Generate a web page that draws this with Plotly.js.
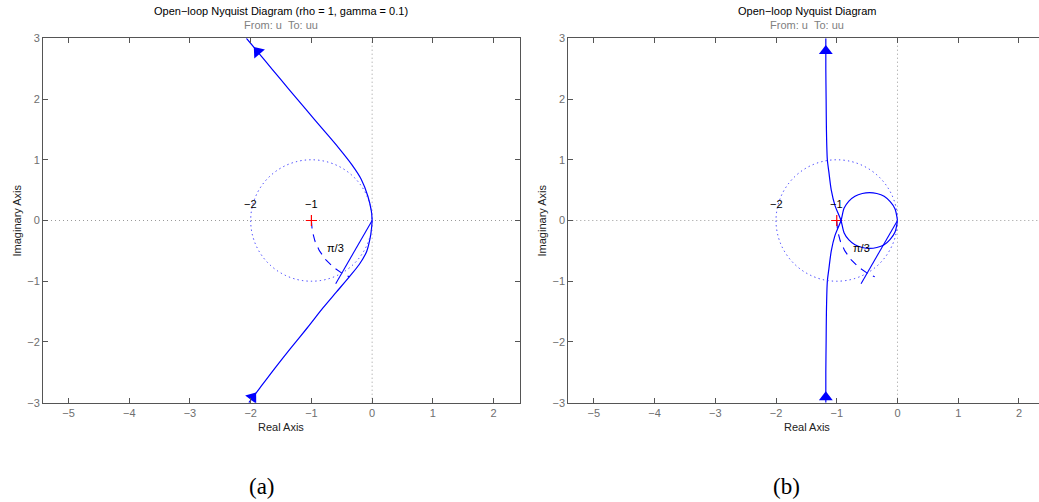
<!DOCTYPE html>
<html>
<head>
<meta charset="utf-8">
<script src="https://cdn.plot.ly/plotly-3.0.1.min.js"></script>
<style>html,body{margin:0;padding:0;background:#fff;}#chart{width:1039px;height:502px;}</style>
</head>
<body>
<div id="chart"></div>
<script>
// ---------- data ----------
// (a) rho = 1, gamma = 0.1 : negative-frequency branch (upper) and positive-frequency branch (lower)
const aUpperX = [-2.07, -1.895, -1.645, -1.37, -1.09, -0.81, -0.555, -0.335, -0.18, -0.07, -0.012, 0];
const aUpperY = [3.00, 2.79, 2.49, 2.16, 1.83, 1.50, 1.20, 0.92, 0.68, 0.40, 0.15, 0];
const aLowerX = [0, -0.012, -0.035, -0.09, -0.21, -0.37, -0.59, -0.81, -1.07, -1.34, -1.60, -1.85, -2.03];
const aLowerY = [0, -0.15, -0.30, -0.51, -0.72, -0.92, -1.18, -1.44, -1.77, -2.10, -2.43, -2.76, -3.00];
const aArrowX = [-1.885, -1.97];
const aArrowY = [2.78, -2.91];
const aArrowAngle = [-40, 37];

// (b) open-loop Nyquist: positive branch (from bottom up, then upper half of the loop) and its mirror
const bPosX = [-1.18, -1.18, -1.175, -1.17, -1.155, -1.13, -1.09, -1.03, -0.93,
               -0.88, -0.80, -0.70, -0.58, -0.46, -0.34, -0.22, -0.12, -0.04, 0];
const bPosY = [-3.00, -2.50, -2.00, -1.50, -1.00, -0.80, -0.50, -0.25, 0,
               0.20, 0.32, 0.40, 0.445, 0.46, 0.445, 0.40, 0.31, 0.19, 0];
const bNegX = [-1.18, -1.18, -1.175, -1.17, -1.155, -1.13, -1.09, -1.03, -0.93,
               -0.88, -0.80, -0.70, -0.58, -0.46, -0.34, -0.22, -0.12, -0.04, 0];
const bNegY = [3.00, 2.50, 2.00, 1.50, 1.00, 0.80, 0.50, 0.25, 0,
               -0.20, -0.32, -0.40, -0.445, -0.46, -0.445, -0.40, -0.31, -0.19, 0];
const bArrowX = [-1.18, -1.18];
const bArrowY = [2.79, -2.91];
const bArrowAngle = [0, 0];

// guide elements shared by both panels
const critX = [-1];
const critY = [0];
const circleCenter = [-1, 0];
const circleRadius = 1;
const piLineX = [0, -0.60];
const piLineY = [0, -1.04];
const arcRadius = 1;
const arcDegrees = [180, 248];
const labelText = ['\u22122', '\u22121', '\u03c0/3'];
const labelX = [-2.0, -1.0, -0.60];
const labelY = [0.27, 0.27, -0.45];

const xTicks = [-5, -4, -3, -2, -1, 0, 1, 2];
const yTicks = [-3, -2, -1, 0, 1, 2, 3];

// ---------- helpers ----------
const W = 1039, H = 502;
const px = v => v / W;
const py = v => 1 - v / H;
const BLUE = '#0000ff';
const FONT = 'Liberation Sans, Arial, Helvetica, sans-serif';
const FS = 11;

function arcPoints(r, degs) {
  const xs = [], ys = [];
  const n = 60;
  for (let i = 0; i <= n; i++) {
    const t = (degs[0] + (degs[1] - degs[0]) * i / n) * Math.PI / 180;
    xs.push(r * Math.cos(t));
    ys.push(r * Math.sin(t));
  }
  return [xs, ys];
}
const [arcX, arcY] = arcPoints(arcRadius, arcDegrees);

function guideTraces(xa, ya) {
  return [
    {x: piLineX, y: piLineY, xaxis: xa, yaxis: ya, mode: 'lines',
     line: {color: BLUE, width: 1.1}, hoverinfo: 'skip'},
    {x: arcX, y: arcY, xaxis: xa, yaxis: ya, mode: 'lines',
     line: {color: BLUE, width: 1.1, dash: '8px,6px'}, hoverinfo: 'skip'},
    {x: critX, y: critY, xaxis: xa, yaxis: ya, mode: 'markers',
     marker: {symbol: 'cross-thin', size: 8, line: {color: 'red', width: 1.2}}, hoverinfo: 'skip'}
  ];
}

const traces = [
  ...guideTraces('x', 'y'),
  {x: aUpperX, y: aUpperY, xaxis: 'x', yaxis: 'y', mode: 'lines',
   line: {color: BLUE, width: 1.2, shape: 'spline', smoothing: 0.8}},
  {x: aLowerX, y: aLowerY, xaxis: 'x', yaxis: 'y', mode: 'lines',
   line: {color: BLUE, width: 1.2, shape: 'spline', smoothing: 0.8}},
  {x: aArrowX, y: aArrowY, xaxis: 'x', yaxis: 'y', mode: 'markers',
   marker: {symbol: 'triangle-up', size: 12, color: BLUE, angle: aArrowAngle, line: {width: 0}}},
  ...guideTraces('x2', 'y2'),
  {x: bPosX, y: bPosY, xaxis: 'x2', yaxis: 'y2', mode: 'lines',
   line: {color: BLUE, width: 1.2, shape: 'spline', smoothing: 0.8}},
  {x: bNegX, y: bNegY, xaxis: 'x2', yaxis: 'y2', mode: 'lines',
   line: {color: BLUE, width: 1.2, shape: 'spline', smoothing: 0.8}},
  {x: bArrowX, y: bArrowY, xaxis: 'x2', yaxis: 'y2', mode: 'markers',
   marker: {symbol: 'triangle-up', size: 12, color: BLUE, angle: bArrowAngle, line: {width: 0}}}
];

function axisStyle(extra) {
  return Object.assign({
    showgrid: false, zeroline: false, showline: true,
    linecolor: '#555', linewidth: 1,
    ticks: 'inside', ticklen: 5, tickwidth: 1, tickcolor: '#555',
    tickfont: {family: FONT, size: FS, color: '#6e6e6e'},
    fixedrange: true
  }, extra);
}

const yDom = [py(402.7), py(38.3)];

function guideShapes(xa, ya, xr) {
  return [
    {type: 'line', xref: xa, yref: ya, x0: 0, x1: 0, y0: -3, y1: 3, layer: 'below',
     line: {color: '#9a9a9a', width: 1, dash: '1px,3px'}},
    {type: 'line', xref: xa, yref: ya, x0: xr[0], x1: xr[1], y0: 0, y1: 0, layer: 'below',
     line: {color: '#9a9a9a', width: 1, dash: '1px,3px'}},
    {type: 'circle', xref: xa, yref: ya,
     x0: circleCenter[0] - circleRadius, x1: circleCenter[0] + circleRadius,
     y0: circleCenter[1] - circleRadius, y1: circleCenter[1] + circleRadius,
     line: {color: '#3030ff', width: 1, dash: '1.3px,3.2px'}}
  ];
}

function labelAnns(xa, ya) {
  return labelText.map((t, i) => ({
    xref: xa, yref: ya, x: labelX[i], y: labelY[i], text: t, showarrow: false,
    xanchor: 'center', yanchor: 'middle', font: {family: FONT, size: FS, color: '#000'}
  }));
}

function paperText(x, y, text, opts) {
  return Object.assign({xref: 'paper', yref: 'paper', x: px(x), y: py(y), text: text,
    showarrow: false, xanchor: 'center', yanchor: 'middle',
    font: {family: FONT, size: FS, color: '#000'}}, opts || {});
}

const xRangeA = [-5.42, 2.43];
const xRangeB = [-5.42, 2.33];
const capFont = {family: 'Liberation Serif, DejaVu Serif, serif', size: 23, color: '#000'};

const layout = {
  width: W, height: H,
  margin: {l: 0, r: 0, t: 0, b: 0},
  paper_bgcolor: '#fff', plot_bgcolor: '#fff',
  showlegend: false,
  xaxis: axisStyle({domain: [px(43), px(519.7)], range: xRangeA, anchor: 'y', tickvals: xTicks, mirror: 'ticks'}),
  yaxis: axisStyle({domain: yDom, range: [-3, 3], anchor: 'x', tickvals: yTicks, mirror: 'ticks'}),
  xaxis2: axisStyle({domain: [px(568.3), 1], range: xRangeB, anchor: 'y2', tickvals: xTicks, mirror: 'ticks'}),
  yaxis2: axisStyle({domain: yDom, range: [-3, 3], anchor: 'x2', tickvals: yTicks, mirror: false}),
  shapes: [...guideShapes('x', 'y', xRangeA), ...guideShapes('x2', 'y2', xRangeB)],
  annotations: [
    ...labelAnns('x', 'y'),
    ...labelAnns('x2', 'y2'),
    paperText(281, 11, 'Open\u2212loop Nyquist Diagram (rho = 1, gamma = 0.1)'),
    paperText(281, 25, 'From: u\u00a0\u00a0To: uu', {font: {family: FONT, size: FS, color: '#808080'}}),
    paperText(807, 11, 'Open\u2212loop Nyquist Diagram'),
    paperText(807, 25, 'From: u\u00a0\u00a0To: uu', {font: {family: FONT, size: FS, color: '#808080'}}),
    paperText(281, 427, 'Real Axis', {font: {family: FONT, size: FS, color: '#222'}}),
    paperText(806.8, 427, 'Real Axis', {font: {family: FONT, size: FS, color: '#222'}}),
    paperText(16, 220.5, 'Imaginary Axis', {textangle: -90, font: {family: FONT, size: FS, color: '#222'}}),
    paperText(541, 220.5, 'Imaginary Axis', {textangle: -90, font: {family: FONT, size: FS, color: '#222'}}),
    paperText(261.7, 486.5, '(a)', {font: capFont}),
    paperText(786.7, 486.5, '(b)', {font: capFont})
  ]
};

Plotly.newPlot('chart', traces, layout, {staticPlot: true, displayModeBar: false});
</script>
</body>
</html>
